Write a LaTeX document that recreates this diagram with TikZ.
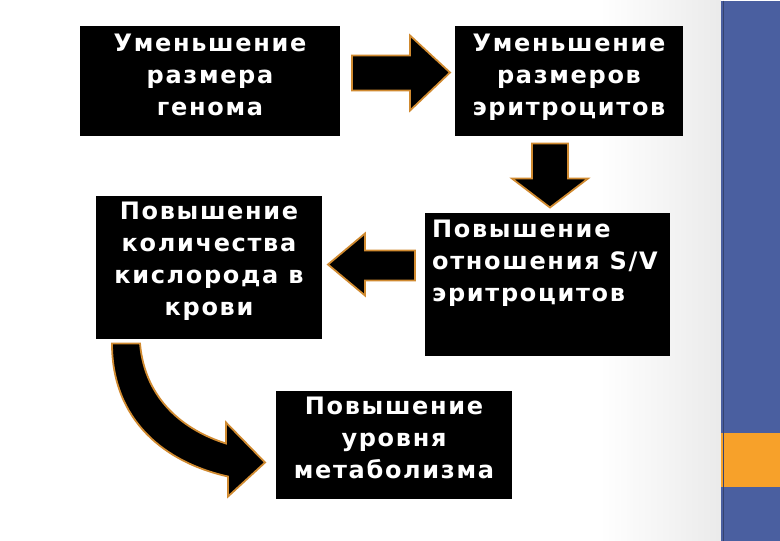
\documentclass[tikz,border=0pt]{standalone}
\usepackage{fontspec}
\setmainfont{DejaVu Sans}
\definecolor{barblue}{HTML}{4A5FA0}
\definecolor{barorange}{HTML}{F7A12A}
\definecolor{arrowedge}{HTML}{D08A30}
\begin{document}
\begin{tikzpicture}[x=1pt,y=-1pt,
  box/.style={fill=black,text=white,font=\bfseries\fontsize{24}{32}\selectfont\addfontfeatures{LetterSpace=7},inner sep=0pt,anchor=north west,align=center},
  arr/.style={fill=black,draw=arrowedge,line width=1.8pt,line join=miter}]
\fill[white] (0,0) rectangle (780,540);
\fill[left color=white,right color=black!8] (600,0) rectangle (721,540);
\fill[barblue] (721,0) rectangle (780,540);
\fill[barorange] (721,432) rectangle (780,486);
\draw[barblue!70!black,line width=1pt] (723,0) -- (723,540);
% boxes
\fill (80,25) rectangle (340,135);
\node[box,anchor=north] (a) at (210,33) {Уменьшение\\размера\\генома};
\fill (455,25) rectangle (683,135);
\node[box,anchor=north] (b) at (569,33) {Уменьшение\\размеров\\эритроцитов};
\fill (96,195) rectangle (322,338);
\node[box,anchor=north] (c) at (209,201) {Повышение\\количества\\кислорода в\\крови};
\fill (425,212) rectangle (670,355);
\node[box,align=left] (d) at (432,219) {Повышение\\отношения S/V\\эритроцитов};
\fill (276,390) rectangle (512,498);
\node[box,anchor=north] (e) at (394,396) {Повышение\\уровня\\метаболизма};
% arrows
\path[arr] (352,55) -- (410,55) -- (410,35) -- (450,72) -- (410,110) -- (410,90) -- (352,90) -- cycle;
\path[arr] (532,143) -- (568,143) -- (568,178) -- (588,178) -- (550,207) -- (512,178) -- (532,178) -- cycle;
\path[arr] (415,250) -- (365,250) -- (365,233) -- (328,264) -- (365,295) -- (365,280) -- (415,280) -- cycle;
\path[arr] (112,343) -- (140,343) .. controls (145,400) and (185,430) .. (226,443)
  -- (226,422) -- (265,462) -- (228,496) -- (228,476)
  .. controls (165,462) and (112,420) .. (112,343) -- cycle;
\end{tikzpicture}
\end{document}
